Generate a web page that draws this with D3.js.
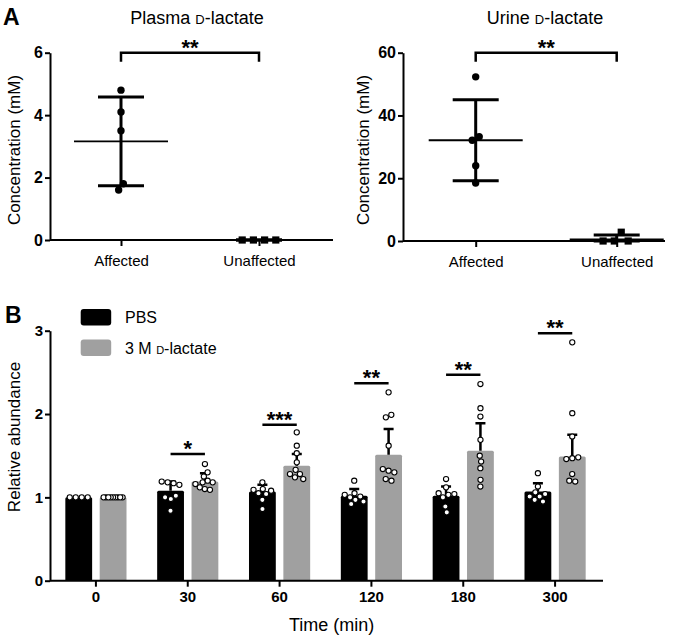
<!DOCTYPE html>
<html lang="en">
<head>
<meta charset="utf-8">
<title>D-lactate</title>
<script src="https://d3js.org/d3.v7.min.js"></script>
<style>
  body { margin: 0; background: #fff; }
  svg { display: block; font-family: "Liberation Sans", Arial, sans-serif; }
</style>
</head>
<body>
<svg id="chart" width="691" height="644"></svg>
<script>
// ---- panel A data
var groups = ["Affected", "Unaffected"];
var plasmaAffected = [4.8, 4.1, 3.5, 1.8, 1.6];
var plasmaUnaffected = [0, 0, 0, 0];
var plasmaMean = [3.16, 0];
var plasmaSD = [1.42, 0];
var urineAffected = [52.3, 33.2, 32.1, 24.0, 18.5];
var urineUnaffected = [0, 0, 0, 2.8];
var urineMean = [32.1, 0.5];
var urineSD = [12.9, 1.4];

// ---- panel B data
var times = ["0", "30", "60", "120", "180", "300"];
var series = ["PBS", "lactate"];
var pbsMean = [1.0, 1.08, 1.07, 1.02, 1.02, 1.07];
var pbsSEM = [0, 0.11, 0.08, 0.08, 0.11, 0.10];
var lacMean = [1.0, 1.19, 1.38, 1.51, 1.56, 1.49];
var lacSEM = [0, 0.10, 0.14, 0.31, 0.33, 0.26];
var pbsPoints = [
  [1, 1, 1, 1],
  [1.18, 1.17, 1.19, 1.02, 1.0, 0.98, 0.84, 1.15],
  [1.18, 1.10, 1.09, 1.08, 1.05, 1.04, 0.97, 0.86],
  [1.20, 1.05, 1.03, 1.01, 1.0, 0.97, 0.92, 0.95],
  [1.22, 1.12, 1.05, 1.03, 1.0, 1.04, 0.89, 0.82],
  [1.29, 1.13, 1.06, 1.01, 1.01, 0.95, 0.97, 1.04]
];
var lacPoints = [
  [1, 1, 1, 1, 1, 1, 1, 1, 1],
  [1.40, 1.30, 1.25, 1.18, 1.16, 1.18, 1.10, 1.09, 1.12, 1.20],
  [1.78, 1.62, 1.53, 1.42, 1.33, 1.28, 1.28, 1.22, 1.24],
  [2.26, 1.99, 1.96, 1.62, 1.32, 1.30, 1.34, 1.20, 1.22],
  [2.36, 2.07, 1.97, 1.69, 1.50, 1.43, 1.35, 1.21, 1.13],
  [2.86, 2.01, 1.73, 1.47, 1.46, 1.48, 1.28, 1.19, 1.20]
];
var sigText = ["", "*", "***", "**", "**", "**"];
var sigLevel = [null, 1.52, 1.87, 2.37, 2.47, 2.97];

var GRAY = "#a0a0a0";
var svg = d3.select("#chart");

// spread points sideways so they don't overlap (y stays fixed)
function swarm(values, y, cx, r, maxHalf) {
  var nodes = values.map(function (v, i) {
    return { v: v, x: cx + (i % 2 ? 1 : -1) * (i + 1) * 0.3, y: y(v), fy: y(v) };
  });
  var sim = d3.forceSimulation(nodes)
    .force("x", d3.forceX(cx).strength(0.05))
    .force("collide", d3.forceCollide(r))
    .stop();
  for (var k = 0; k < 300; k++) sim.tick();
  var ext = d3.max(nodes, function (d) { return Math.abs(d.x - cx); });
  if (maxHalf && ext > maxHalf) {
    nodes.forEach(function (d) { d.x = cx + (d.x - cx) * maxHalf / ext; });
  }
  return nodes;
}

function styleAxis(g, size, bold) {
  g.selectAll("path, line").attr("stroke", "#000").attr("stroke-width", 2);
  g.selectAll("text")
    .attr("font-family", "'Liberation Sans', Arial, sans-serif")
    .attr("font-size", size)
    .attr("font-weight", bold ? "bold" : "normal")
    .attr("fill", "#000");
  g.attr("font-family", null).attr("font-size", null);
}

// ---------------- Panel A ----------------
function dotPanel(cfg) {
  var y = d3.scaleLinear().domain([0, cfg.max]).range([cfg.y0, 52.7]);
  var x = d3.scalePoint().domain(groups).range(cfg.xr);
  var g = svg.append("g");

  var ya = g.append("g").attr("transform", "translate(" + cfg.left + ",0)")
    .call(d3.axisLeft(y).tickValues(cfg.ticks).tickFormat(d3.format("d"))
      .tickSize(5).tickPadding(2).tickSizeOuter(0));
  styleAxis(ya, 16, true);

  var xa = g.append("g").attr("transform", "translate(0," + cfg.y0 + ")")
    .call(d3.axisBottom(x).tickSize(6).tickPadding(9));
  xa.select(".domain").remove();
  styleAxis(xa, 15, false);
  g.append("line").attr("x1", cfg.left).attr("x2", cfg.right)
    .attr("y1", cfg.y0).attr("y2", cfg.y0)
    .attr("stroke", "#000").attr("stroke-width", 2);

  // title
  var t = g.append("text").attr("x", cfg.titleX).attr("y", 23.5)
    .attr("text-anchor", "middle").attr("font-size", 18);
  t.append("tspan").text(cfg.title + " ");
  t.append("tspan").style("font-variant", "small-caps").text("d");
  t.append("tspan").text("-lactate");

  // y label
  g.append("text")
    .attr("transform", "translate(" + cfg.labelX + ",150) rotate(-90)")
    .attr("text-anchor", "middle").attr("font-size", 17)
    .text("Concentration (mM)");

  // mean and SD
  groups.forEach(function (grp, i) {
    var cx = x(grp);
    var lo = Math.max(0, cfg.mean[i] - cfg.sd[i]);
    var hi = cfg.mean[i] + cfg.sd[i];
    g.append("line").attr("x1", cx).attr("x2", cx).attr("y1", y(lo)).attr("y2", y(hi))
      .attr("stroke", "#000").attr("stroke-width", 3);
    [lo, hi].forEach(function (v) {
      g.append("line").attr("x1", cx - 23).attr("x2", cx + 23).attr("y1", y(v)).attr("y2", y(v))
        .attr("stroke", "#000").attr("stroke-width", 3);
    });
    g.append("line").attr("x1", cx - 47).attr("x2", cx + 47)
      .attr("y1", y(cfg.mean[i])).attr("y2", y(cfg.mean[i]))
      .attr("stroke", "#000").attr("stroke-width", 1.8);
  });

  // points
  swarm(cfg.affected, y, x("Affected"), 3.9).forEach(function (d) {
    g.append("circle").attr("cx", d.x).attr("cy", d.y).attr("r", 3.7).attr("fill", "#000");
  });
  swarm(cfg.unaffected, y, x("Unaffected"), 5.6).forEach(function (d) {
    g.append("rect").attr("x", d.x - 3.6).attr("y", d.y - 3.6)
      .attr("width", 7.2).attr("height", 7.2).attr("fill", "#000");
  });

  // significance bracket
  var sy = y(cfg.max);
  g.append("path")
    .attr("d", "M" + x("Affected") + "," + (sy + 9) + "V" + sy + "H" + x("Unaffected") + "V" + (sy + 9))
    .attr("fill", "none").attr("stroke", "#000").attr("stroke-width", 2.5);
  g.append("text").attr("x", (x("Affected") + x("Unaffected")) / 2).attr("y", sy + 2)
    .attr("text-anchor", "middle").attr("font-size", 22).attr("font-weight", "bold").text("**");
}

dotPanel({
  title: "Plasma", titleX: 197, max: 6, ticks: [0, 2, 4, 6], y0: 240,
  left: 50, right: 333, xr: [121, 259], labelX: 19.5,
  affected: plasmaAffected, unaffected: plasmaUnaffected, mean: plasmaMean, sd: plasmaSD
});
dotPanel({
  title: "Urine", titleX: 545, max: 60, ticks: [0, 20, 40, 60], y0: 241,
  left: 403, right: 665, xr: [475.7, 616.7], labelX: 369,
  affected: urineAffected, unaffected: urineUnaffected, mean: urineMean, sd: urineSD
});

svg.append("text").attr("x", 3).attr("y", 25).attr("font-size", 23)
  .attr("font-weight", "bold").text("A");

// ---------------- Panel B ----------------
var gB = svg.append("g");
var x0 = d3.scaleBand().domain(times).range([50, 601]);
var xs = d3.scaleBand().domain(series).range([0, x0.bandwidth()])
  .paddingInner(0.22).paddingOuter(0.446);
var yB = d3.scaleLinear().domain([0, 3]).range([580.7, 330.7]);

var yaB = gB.append("g").attr("transform", "translate(50,0)")
  .call(d3.axisLeft(yB).ticks(3).tickFormat(d3.format("d")).tickSize(5).tickPadding(2).tickSizeOuter(0));
styleAxis(yaB, 15, true);

var meansBy = { PBS: pbsMean, lactate: lacMean };
var semBy = { PBS: pbsSEM, lactate: lacSEM };
var ptsBy = { PBS: pbsPoints, lactate: lacPoints };
var fillBy = { PBS: "#000", lactate: GRAY };

times.forEach(function (t, i) {
  series.forEach(function (s) {
    var bx = x0(t) + xs(s);
    var cx = bx + xs.bandwidth() / 2;
    var m = meansBy[s][i];
    gB.append("rect").attr("x", bx).attr("y", yB(m))
      .attr("width", xs.bandwidth()).attr("height", yB(0) - yB(m))
      .attr("rx", 1.5).attr("fill", fillBy[s]);
    var e = semBy[s][i];
    if (e > 0) {
      gB.append("path")
        .attr("d", "M" + cx + "," + yB(m) + "V" + yB(m + e) + "M" + (cx - 5) + "," + yB(m + e) + "H" + (cx + 5))
        .attr("fill", "none").attr("stroke", "#000").attr("stroke-width", 2.5);
    }
  });
  series.forEach(function (s) {
    var cx = x0(t) + xs(s) + xs.bandwidth() / 2;
    swarm(ptsBy[s][i], yB, cx, 3.0, 9.5).forEach(function (d) {
      gB.append("circle").attr("cx", d.x).attr("cy", d.y).attr("r", 2.6)
        .attr("fill", "#fff").attr("stroke", "#000").attr("stroke-width", 1.1);
    });
  });
  if (sigLevel[i] !== null) {
    var xa1 = x0(t) + xs("PBS") + xs.bandwidth() / 2;
    var xa2 = x0(t) + xs("lactate") + xs.bandwidth() / 2;
    gB.append("line").attr("x1", xa1).attr("x2", xa2)
      .attr("y1", yB(sigLevel[i])).attr("y2", yB(sigLevel[i]))
      .attr("stroke", "#000").attr("stroke-width", 2.5);
    gB.append("text").attr("x", (xa1 + xa2) / 2).attr("y", yB(sigLevel[i]) + 2)
      .attr("text-anchor", "middle").attr("font-size", 22).attr("font-weight", "bold")
      .text(sigText[i]);
  }
});

var xaB = gB.append("g").attr("transform", "translate(0,580.7)")
  .call(d3.axisBottom(x0).tickSize(6).tickPadding(5).tickSizeOuter(0));
xaB.select(".domain").remove();
styleAxis(xaB, 15, true);
gB.append("line").attr("x1", 50).attr("x2", 603).attr("y1", 580.7).attr("y2", 580.7)
  .attr("stroke", "#000").attr("stroke-width", 2);

gB.append("text").attr("x", 331.7).attr("y", 631).attr("text-anchor", "middle")
  .attr("font-size", 18).text("Time (min)");
gB.append("text").attr("transform", "translate(20,437) rotate(-90)")
  .attr("text-anchor", "middle").attr("font-size", 17).text("Relative abundance");

// legend
var leg = gB.append("g");
series.forEach(function (s, i) {
  var ly = 309 + i * 30.5;
  leg.append("rect").attr("x", 80.7).attr("y", ly).attr("width", 30.5).attr("height", 16.5)
    .attr("rx", 3).attr("fill", fillBy[s]);
  var tx = leg.append("text").attr("x", 125).attr("y", ly + 14).attr("font-size", 16);
  if (s === "PBS") {
    tx.text("PBS");
  } else {
    tx.append("tspan").text("3 M ");
    tx.append("tspan").style("font-variant", "small-caps").text("d");
    tx.append("tspan").text("-lactate");
  }
});

svg.append("text").attr("x", 5).attr("y", 323).attr("font-size", 23)
  .attr("font-weight", "bold").text("B");
</script>
</body>
</html>
